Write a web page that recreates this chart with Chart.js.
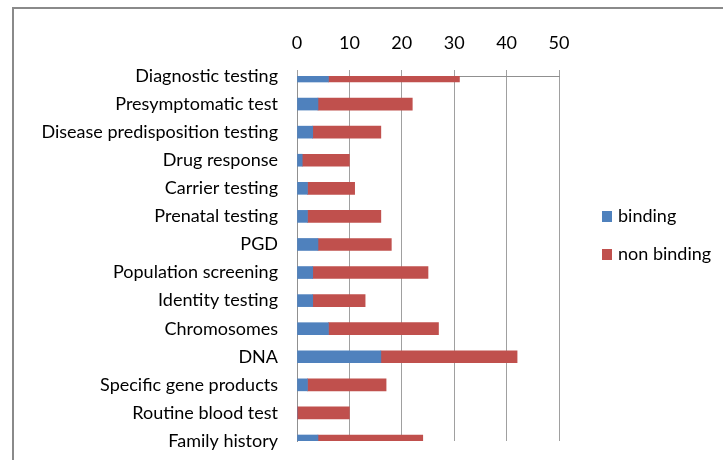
<!DOCTYPE html>
<html>
<head>
<meta charset="utf-8">
<script src="https://cdn.jsdelivr.net/npm/chart.js@4/dist/chart.umd.min.js"></script>
<style>
  html, body { margin: 0; padding: 0; background: #ffffff; }
  #wrap { position: relative; width: 723px; height: 460px; }
  canvas { display: block; }
</style>
</head>
<body>
<div id="wrap"><canvas id="c" width="723" height="460"></canvas></div>
<script>
const categories = [
  "Diagnostic testing",
  "Presymptomatic test",
  "Disease predisposition testing",
  "Drug response",
  "Carrier testing",
  "Prenatal testing",
  "PGD",
  "Population screening",
  "Identity testing",
  "Chromosomes",
  "DNA",
  "Specific gene products",
  "Routine blood test",
  "Family history"
];
const binding    = [6, 4, 3, 1, 2, 2, 4, 3, 3, 6, 16, 2, 0, 4];
const nonBinding = [25, 18, 13, 9, 9, 14, 14, 22, 10, 21, 26, 15, 10, 20];
const xTicks = [0, 10, 20, 30, 40, 50];

const FONT = "Lato, 'Liberation Sans', sans-serif";

const framePlugin = {
  id: 'frame',
  beforeDraw(chart) {
    const ctx = chart.ctx;
    ctx.save();
    ctx.fillStyle = '#ffffff';
    ctx.fillRect(0, 0, chart.width, chart.height);
    ctx.fillStyle = '#8a8a8a';
    ctx.fillRect(12, 7, 2, chart.height - 7);
    ctx.fillRect(12, 7, chart.width - 12, 2);
    ctx.restore();
  }
};

const clipPlugin = {
  id: 'clipBars',
  beforeDatasetsDraw(chart) {
    const a = chart.chartArea;
    const ctx = chart.ctx;
    ctx.save();
    ctx.beginPath();
    ctx.rect(a.left, a.top, a.right - a.left, a.bottom - a.top);
    ctx.clip();
  },
  afterDatasetsDraw(chart) {
    chart.ctx.restore();
  }
};

const legendPlugin = {
  id: 'sideLegend',
  afterDraw(chart) {
    const ctx = chart.ctx;
    const ys = [216, 254];
    ctx.save();
    ctx.font = "18px " + FONT;
    ctx.textBaseline = 'middle';
    ctx.textAlign = 'left';
    chart.data.datasets.forEach((ds, i) => {
      ctx.fillStyle = ds.backgroundColor;
      ctx.fillRect(602, ys[i] - 5, 10, 11);
      ctx.fillStyle = '#000000';
      ctx.fillText(ds.label, 618, ys[i]);
    });
    ctx.restore();
  }
};

new Chart(document.getElementById('c'), {
  type: 'bar',
  data: {
    labels: categories,
    datasets: [
      { label: 'binding', data: binding, backgroundColor: '#4F81BD', barThickness: 12, clip: 0 },
      { label: 'non binding', data: nonBinding, backgroundColor: '#C0504D', barThickness: 12, clip: 0 }
    ]
  },
  options: {
    indexAxis: 'y',
    responsive: false,
    animation: false,
    devicePixelRatio: 1,
    layout: { padding: { left: 0, right: 164, top: 0, bottom: 19 } },
    plugins: {
      legend: { display: false },
      tooltip: { enabled: false }
    },
    scales: {
      x: {
        position: 'top',
        stacked: true,
        min: 0,
        max: 50,
        afterBuildTicks(scale) { scale.ticks = xTicks.map(v => ({ value: v })); },
        afterFit(scale) { scale.height = 76; scale.paddingLeft = 0; scale.paddingRight = 0; },
        ticks: {
          padding: 16,
          color: '#000000',
          font: { family: FONT, size: 18 }
        },
        grid: { color: '#a0a0a0', lineWidth: 1, drawTicks: true, tickLength: 6 },
        border: { display: true, color: '#909090', width: 1 }
      },
      y: {
        stacked: true,
        offset: false,
        afterFit(scale) { scale.width = 297; scale.paddingTop = 0; scale.paddingBottom = 0; },
        ticks: {
          padding: 19,
          color: '#000000',
          autoSkip: false,
          font: { family: FONT, size: 18 }
        },
        grid: { display: false, drawTicks: false },
        border: { display: true, color: '#909090', width: 1 }
      }
    }
  },
  plugins: [framePlugin, clipPlugin, legendPlugin]
});
</script>
</body>
</html>
